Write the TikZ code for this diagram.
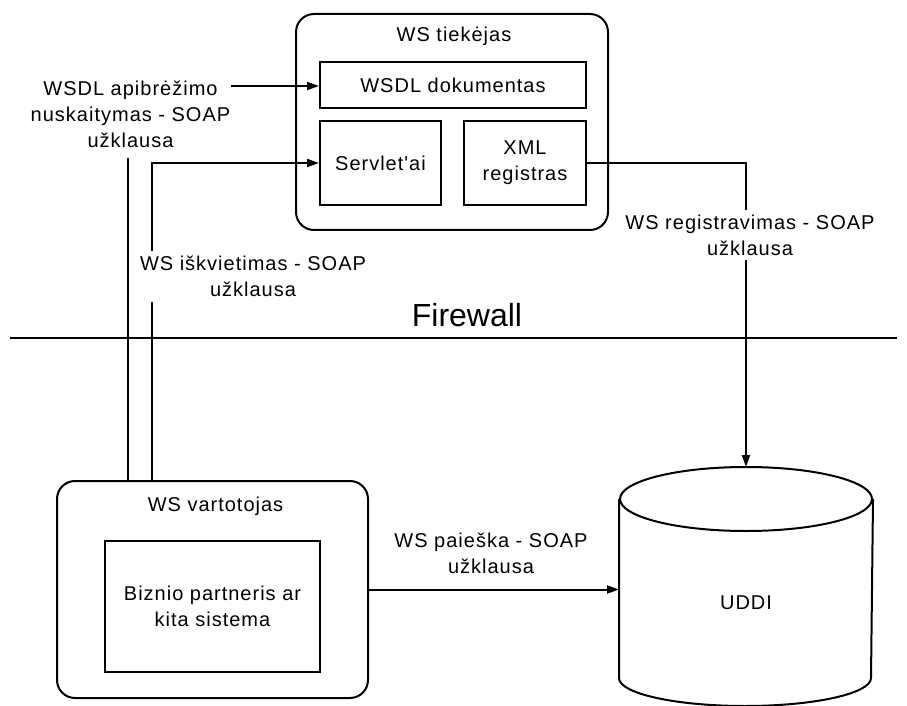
\documentclass[tikz,border=0pt]{standalone}
\usepackage{fontspec}
\setmainfont{Liberation Sans}[LetterSpace=5,Ligatures=TeXOff]
\newfontfamily\wallfont{Liberation Sans}
\usetikzlibrary{arrows.meta}

\begin{document}
\begin{tikzpicture}[x=1pt,y=1pt,line width=2pt,
    font=\fontsize{20}{26}\selectfont,
    holder/.style={draw,rounded corners=18pt,inner sep=0pt},
    part/.style={draw,inner sep=0pt,align=center},
    note/.style={align=center,inner sep=1pt},
    tip/.style={-{Triangle[length=12pt,width=8pt]}}]
\useasboundingbox (0,0) rectangle (907,705);
% WS tiekejas
\node[holder,minimum width=312pt,minimum height=216pt] (provider) at (452,583) {};
\node[anchor=base] (providertitle) at (454,663) {WS tiekėjas};
\node[part,minimum width=266pt,minimum height=46pt] (wsdl) at (453,620) {WSDL dokumentas};
\node[part,minimum width=121pt,minimum height=84pt] (servlet) at (380.5,542) {Servlet'ai};
\node[part,minimum width=122pt,minimum height=84pt] (xml) at (525,542) {XML\\registras};
% WS vartotojas
\node[holder,minimum width=311pt,minimum height=217pt] (consumer) at (212.5,115.5) {};
\node[anchor=base] (consumertitle) at (215.5,194) {WS vartotojas};
\node[part,minimum width=215pt,minimum height=131pt] (partner) at (212.5,98.5) {Biznio partneris ar\\kita sistema};
% UDDI
\node[inner sep=0pt,minimum width=252pt,minimum height=177pt] (uddi) at (746,116.5) {};
\node (udditext) at (746,102) {UDDI};
\draw (uddi.north west) -- (uddi.south west) arc (180:360:126pt and 28pt) -- (uddi.north east);
\draw (uddi.north) ellipse (126pt and 32pt);
% firewall
\coordinate (fwleft) at (10,367);
\coordinate (fwright) at (897,367);
\draw (fwleft) -- (fwright);
\node[anchor=base,font=\wallfont\fontsize{32}{38}\selectfont] (firewall) at (467,378) {Firewall};
% connectors
\node[note] (wsdllbl) at (130.5,590.5) {WSDL apibrėžimo\\nuskaitymas - SOAP\\užklausa};
\coordinate (wsdlfrom) at (231,619);
\coordinate (wsdlbot) at (128,547);
\coordinate (callbend) at (152,542);
\draw[tip] (wsdlfrom) -- (wsdlfrom -| wsdl.west);
\draw (wsdlbot) -- (wsdlbot |- consumer.north);
\draw[tip] (callbend |- consumer.north) -- (callbend) -- (servlet.west);
\draw[tip] (xml.east) -| ([yshift=32pt]uddi.north);
\draw[tip] (consumer.east) -- (consumer.east -| uddi.west);
\node[note,fill=white,inner ysep=5pt] (calllbl) at (253,428.5) {WS iškvietimas - SOAP\\užklausa};
\node[note,fill=white,inner ysep=5pt] (reglbl) at (750,470) {WS registravimas - SOAP\\užklausa};
\node[note] (searchlbl) at (491,152) {WS paieška - SOAP\\užklausa};
\end{tikzpicture}
\end{document}
